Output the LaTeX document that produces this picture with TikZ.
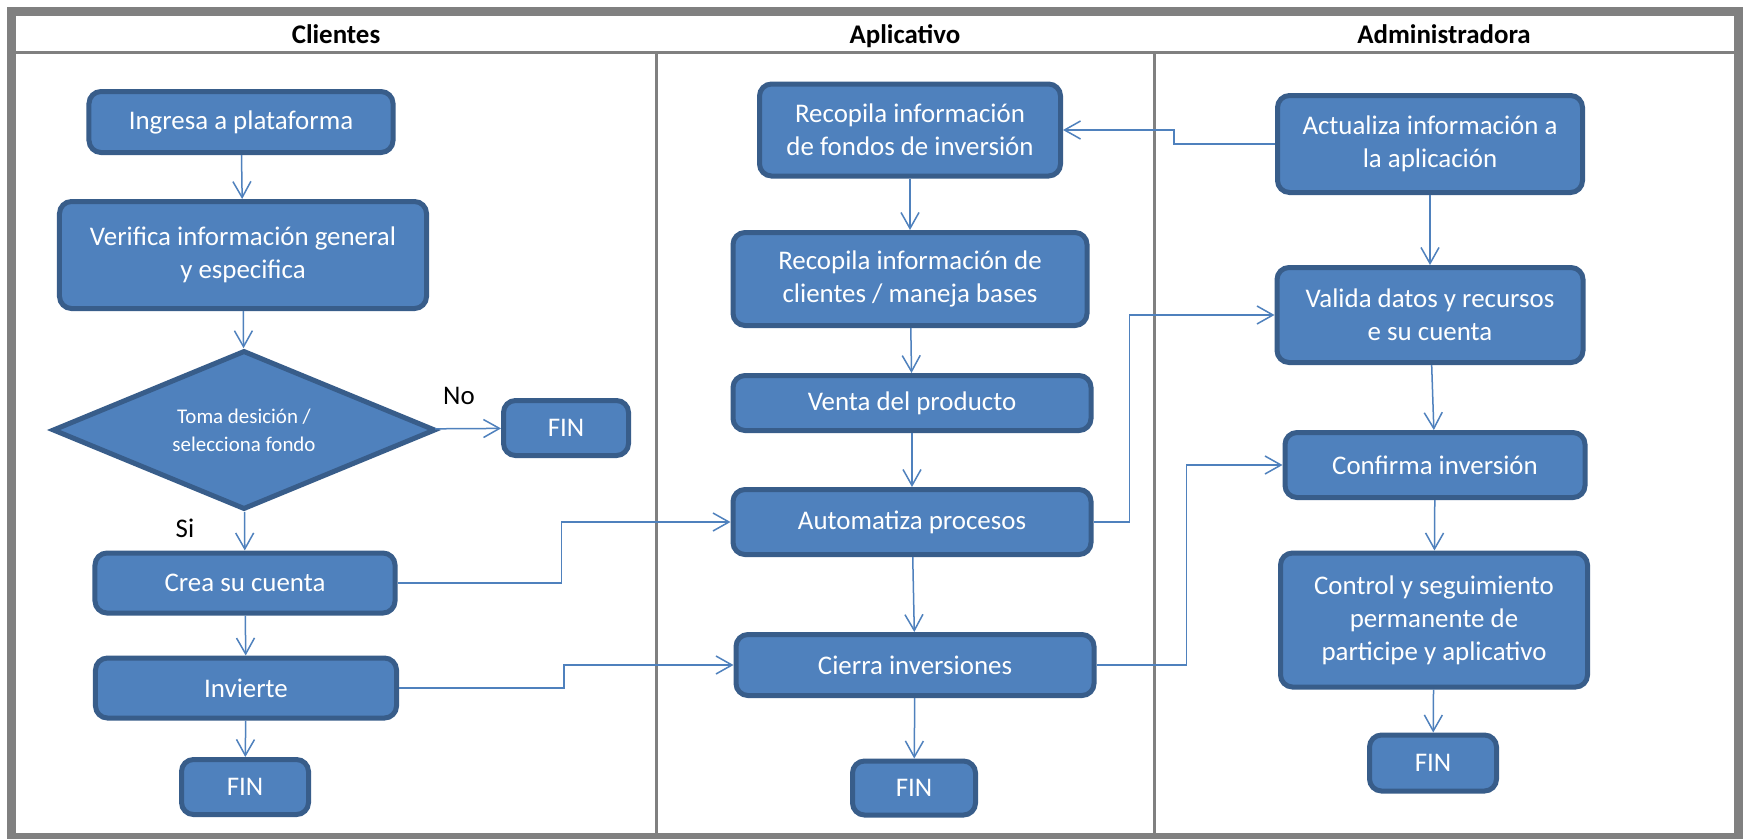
\documentclass[tikz,border=0pt]{standalone}
\usepackage{fontspec}
\setmainfont{Carlito}
\usepackage{tikz}
\usetikzlibrary{shapes.geometric,arrows.meta}
\definecolor{boxblue}{HTML}{4F81BD}
\definecolor{boxedge}{HTML}{385D8A}
\definecolor{lanegray}{HTML}{808080}
\tikzset{
    stepbox/.style={rectangle,rounded corners=12bp,draw=boxedge,fill=boxblue,line width=5bp,text=white,font=\fontsize{27}{33}\selectfont,align=center,inner sep=0pt},
    decision/.style={diamond,shape aspect=2.4,draw=boxedge,fill=boxblue,line width=5bp,text=white,font=\fontsize{21}{28}\selectfont,align=center,inner sep=0pt},
    flow/.style={draw=boxblue,line width=1.5bp,-{Straight Barb[length=16bp,width=18bp]}},
    lanehead/.style={font=\bfseries\fontsize{27}{32}\selectfont,anchor=base},
    answer/.style={font=\fontsize{27}{32}\selectfont,black}
}

\begin{document}
\begin{tikzpicture}[x=1bp,y=-1bp]
                            \useasboundingbox (0,0) rectangle (1743,839);
                            \fill[white] (0,0) rectangle (1743,839);
                            \draw[lanegray,line width=9bp] (11.5,11.5) rectangle (1738.5,837.5);
                            \draw[lanegray,line width=3bp] (16,52) -- (1734,52);
                            \draw[lanegray,line width=3bp] (656,52) -- (656,833);
                            \draw[lanegray,line width=3bp] (1154,52) -- (1154,833);
                            \node[lanehead] (hcli) at (336,43) {Clientes};
                            \node[lanehead] (happ) at (905,43) {Aplicativo};
                            \node[lanehead] (hadm) at (1444,43) {Administradora};

                            \node[stepbox,minimum width=304bp,minimum height=61bp] (ingresa) at (241,122) {Ingresa a plataforma};
                            \node[stepbox,minimum width=367bp,minimum height=107bp] (verifica) at (243,255) {Verifica información general\\y especifica};
                            \node[decision,minimum width=383bp,minimum height=159bp] (decide) at (244,430) {Toma desición /\\selecciona fondo};
                            \node[stepbox,minimum width=125bp,minimum height=55bp] (finno) at (566,428) {FIN};
                            \node[stepbox,minimum width=300bp,minimum height=60bp] (crea) at (245,583) {Crea su cuenta};
                            \node[stepbox,minimum width=301bp,minimum height=60bp] (invierte) at (246,688) {Invierte};
                            \node[stepbox,minimum width=127bp,minimum height=55bp] (fincli) at (245,787) {FIN};
                            \node[answer] (no) at (459,396) {No};
                            \node[answer] (si) at (185,528) {Si};

                            \node[stepbox,minimum width=301bp,minimum height=92bp] (fondos) at (910,130) {Recopila información\\de fondos de inversión};
                            \node[stepbox,minimum width=354bp,minimum height=93bp] (clientes) at (910,279) {Recopila información de\\clientes / maneja bases};
                            \node[stepbox,minimum width=358bp,minimum height=55bp] (venta) at (912,403) {Venta del producto};
                            \node[stepbox,minimum width=358bp,minimum height=65bp] (automatiza) at (912,522) {Automatiza procesos};
                            \node[stepbox,minimum width=358bp,minimum height=61bp] (cierra) at (915,665) {Cierra inversiones};
                            \node[stepbox,minimum width=123bp,minimum height=54bp] (finapp) at (914,788) {FIN};

                            \node[stepbox,minimum width=305bp,minimum height=97bp] (actualiza) at (1430,144) {Actualiza información a\\la aplicación};
                            \node[stepbox,minimum width=306bp,minimum height=95bp] (valida) at (1430,315) {Valida datos y recursos\\e su cuenta};
                            \node[stepbox,minimum width=300bp,minimum height=65bp] (confirma) at (1435,465) {Confirma inversión};
                            \node[stepbox,minimum width=307bp,minimum height=134bp] (control) at (1434,620) {Control y seguimiento\\permanente de\\participe y aplicativo};
                            \node[stepbox,minimum width=127bp,minimum height=56bp] (finadm) at (1433,763) {FIN};

                            \draw[flow] (ingresa) -- (verifica);
                            \draw[flow] (verifica) -- (decide);
                            \draw[flow] (decide) -- (finno);
                            \draw[flow] (decide) -- (crea);
                            \draw[flow] (crea) -- (invierte);
                            \draw[flow] (invierte) -- (fincli);
                            \draw[flow] (crea.east) -- ++(164,0) |- (automatiza.west);
                            \draw[flow] (invierte.east) -- ++(165,0) |- (cierra.west);

                            \draw[flow] (fondos) -- (clientes);
                            \draw[flow] (clientes) -- (venta);
                            \draw[flow] (venta) -- (automatiza);
                            \draw[flow] (automatiza) -- (cierra);
                            \draw[flow] (cierra) -- (finapp);
                            \draw[flow] (automatiza.east) -- ++(36,0) |- (valida.west);
                            \draw[flow] (cierra.east) -- ++(90,0) |- (confirma.west);

                            \draw[flow] (actualiza.west) -- ++(-101,0) |- (fondos.east);
                            \draw[flow] (actualiza) -- (valida);
                            \draw[flow] (valida) -- (confirma);
                            \draw[flow] (confirma) -- (control);
                            \draw[flow] (control) -- (finadm);
                        \end{tikzpicture}
\end{document}
